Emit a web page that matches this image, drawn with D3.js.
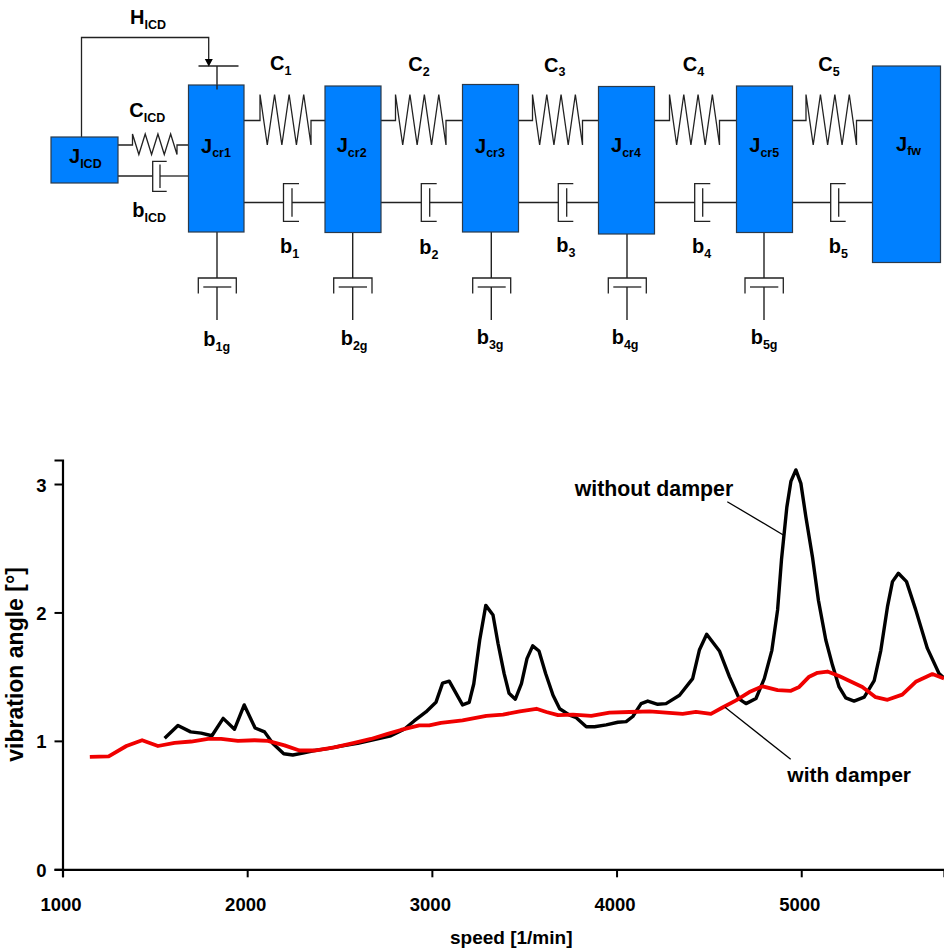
<!DOCTYPE html>
<html>
<head>
<meta charset="utf-8">
<script src="https://cdn.jsdelivr.net/npm/d3@7"></script>
<style>
  html, body { margin: 0; padding: 0; background: #fff; }
  svg { display: block; }
  text { font-family: "Liberation Sans", Arial, sans-serif; font-weight: bold; fill: #000; }
</style>
</head>
<body>
<div id="chart"></div>
<script>
// chart values
const xTicks = [1000, 2000, 3000, 4000, 5000];
const yTicks = [0, 1, 2, 3];

const withoutSpeed = [1553, 1625, 1694, 1751, 1809, 1870, 1931, 1984, 2043, 2094, 2139, 2198, 2247, 2301, 2364, 2436, 2508, 2598, 2688, 2778, 2850, 2904, 2968, 3022, 3058, 3094, 3166, 3202, 3227, 3259, 3292, 3331, 3358, 3391, 3418, 3452, 3485, 3515, 3546, 3580, 3616, 3656, 3692, 3746, 3782, 3836, 3881, 3944, 4007, 4052, 4088, 4133, 4169, 4223, 4268, 4341, 4412, 4449, 4488, 4557, 4611, 4665, 4701, 4755, 4800, 4841, 4872, 4893, 4922, 4944, 4971, 4998, 5025, 5061, 5093, 5133, 5169, 5205, 5241, 5286, 5341, 5395, 5431, 5467, 5494, 5526, 5570, 5620, 5683, 5746, 5773];
const withoutAngle = [1.02, 1.12, 1.07, 1.06, 1.04, 1.175, 1.09, 1.28, 1.10, 1.07, 0.98, 0.90, 0.89, 0.905, 0.925, 0.94, 0.96, 0.98, 1.01, 1.04, 1.09, 1.155, 1.225, 1.30, 1.45, 1.465, 1.28, 1.30, 1.445, 1.785, 2.055, 1.98, 1.76, 1.525, 1.37, 1.325, 1.445, 1.64, 1.74, 1.70, 1.525, 1.355, 1.25, 1.20, 1.18, 1.11, 1.11, 1.125, 1.145, 1.15, 1.19, 1.29, 1.31, 1.285, 1.29, 1.355, 1.485, 1.71, 1.83, 1.70, 1.50, 1.325, 1.29, 1.33, 1.485, 1.705, 2.02, 2.41, 2.82, 3.02, 3.11, 3.005, 2.745, 2.43, 2.095, 1.785, 1.59, 1.42, 1.335, 1.31, 1.34, 1.47, 1.705, 2.045, 2.24, 2.305, 2.24, 2.02, 1.72, 1.525, 1.49];

const withSpeed = [1148, 1250, 1346, 1431, 1517, 1607, 1697, 1788, 1859, 1950, 2040, 2112, 2202, 2283, 2364, 2472, 2580, 2670, 2761, 2832, 2932, 2986, 3049, 3166, 3295, 3385, 3476, 3566, 3620, 3683, 3764, 3863, 3962, 4070, 4178, 4268, 4358, 4430, 4511, 4574, 4647, 4719, 4791, 4872, 4944, 4989, 5043, 5088, 5142, 5205, 5331, 5403, 5467, 5547, 5620, 5710, 5773];
const withAngle = [0.875, 0.88, 0.96, 1.005, 0.96, 0.985, 0.995, 1.015, 1.015, 1.00, 1.005, 1.0, 0.965, 0.925, 0.925, 0.95, 0.985, 1.015, 1.055, 1.085, 1.12, 1.12, 1.14, 1.16, 1.195, 1.205, 1.23, 1.25, 1.225, 1.20, 1.205, 1.195, 1.22, 1.225, 1.23, 1.22, 1.21, 1.225, 1.21, 1.26, 1.315, 1.38, 1.425, 1.395, 1.39, 1.42, 1.50, 1.53, 1.54, 1.505, 1.42, 1.34, 1.32, 1.36, 1.46, 1.52, 1.485];

const width = 944, height = 949;
const blue = "#0080ff", wire = "#222";

const svg = d3.select("#chart").append("svg")
    .attr("width", width)
    .attr("height", height);

// ---- schematic ----
const diagram = svg.append("g");

const boxes = [
    [51, 137, 118, 183], [188.5, 85, 244, 232], [325, 86, 381, 232.5],
    [462.5, 84.5, 518.5, 232], [598.5, 86.5, 654.5, 234], [736.5, 86, 792.5, 232.5],
    [872.5, 66, 940.5, 262.5]
];

function wireLine(points, w) {
    diagram.append("path")
        .attr("d", d3.line()(points))
        .attr("fill", "none")
        .attr("stroke", wire)
        .attr("stroke-width", w || 1.3);
}

// seven slanted strokes starting at the top, then back to the centre line
function spring(x0, x1, xs, xe, yc, top, bottom) {
    const step = (xe - xs) / 7;
    const pts = [[x0, yc], [xs, yc], [xs, top]];
    for (let i = 1; i <= 7; i++) {
        pts.push([xs + i * step, i % 2 ? bottom : top]);
    }
    pts.push([xe, yc], [x1, yc]);
    wireLine(pts);
}

function damper(x0, x1, bx, ax, px, yc, top, bottom, inset) {
    wireLine([[x0, yc], [bx, yc]]);
    wireLine([[ax, top], [bx, top], [bx, bottom], [ax, bottom]]);
    wireLine([[px, top + inset], [px, bottom - inset]]);
    wireLine([[px, yc], [x1, yc]]);
}

function groundDamper(x, y0, left, right) {
    wireLine([[x, y0], [x, 278]], 1.4);
    wireLine([[left, 293.5], [left, 278], [right, 278], [right, 293.5]]);
    wireLine([[left + 5, 287], [right - 5, 287]]);
    wireLine([[x, 287], [x, 320]], 1.4);
}

// wires go first so the boxes sit on top of their ends
wireLine([[81.5, 137], [81.5, 37.5], [208.7, 37.5], [208.7, 60]]);
wireLine([[198.5, 66], [238.5, 66]]);
wireLine([[217, 66], [217, 89.5]], 1.4);
diagram.append("path")
    .attr("d", "M204.8,59L212.8,59L208.8,66.5Z")
    .attr("fill", "#000");

spring(118, 188.5, 132.5, 177, 145, 134, 154.5);
spring(244, 325, 260, 311, 120.5, 94.5, 145);
spring(381, 462.5, 395.5, 446, 120.5, 94.5, 145);
spring(518.5, 598.5, 532.5, 582.5, 120.5, 94.5, 145);
spring(654.5, 736.5, 669.5, 719.5, 120.5, 94.5, 145);
spring(792.5, 872.5, 806, 856.5, 120.5, 94.5, 145);

damper(118, 188.5, 152.7, 166.7, 160, 176, 161.3, 191.3, 3.2);
damper(244, 325, 283.5, 299, 292, 202.5, 183.7, 221.3, 4.6);
damper(381, 462.5, 421.3, 436.7, 429.7, 202.5, 183.7, 221.3, 4.6);
damper(518.5, 598.5, 558.3, 573.3, 566.7, 202.5, 183.7, 221.3, 4.6);
damper(654.5, 736.5, 694.7, 710.3, 702.7, 202.5, 183.7, 221.3, 4.6);
damper(792.5, 872.5, 830.7, 845.7, 838.7, 202.5, 183.7, 221.3, 4.6);

groundDamper(217, 232, 198.3, 236.3);
groundDamper(352.7, 232.5, 333.7, 372);
groundDamper(491.3, 232, 472.7, 510.7);
groundDamper(627, 234, 608.3, 646.3);
groundDamper(764, 232.5, 745, 783.3);

diagram.selectAll("rect")
    .data(boxes)
    .enter()
    .append("rect")
    .attr("x", d => d[0])
    .attr("y", d => d[1])
    .attr("width", d => d[2] - d[0])
    .attr("height", d => d[3] - d[1])
    .attr("fill", blue)
    .attr("stroke", "#2b3a4a")
    .attr("stroke-width", 1.2);

// stem of the H_ICD actuator runs over the top of the first crank box
wireLine([[217, 85], [217, 89.5]], 1.4);

const labels = [
    ["H", "ICD", 130, 24], ["C", "ICD", 129.3, 117.3], ["b", "ICD", 132.3, 217.3], ["J", "ICD", 69, 163.3],
    ["J", "cr1", 201, 152.7], ["J", "cr2", 336.7, 152], ["J", "cr3", 475, 152.7], ["J", "cr4", 611, 152],
    ["J", "cr5", 749.3, 152], ["J", "fw", 896, 150.7],
    ["C", "1", 270, 70], ["C", "2", 408.3, 71], ["C", "3", 544, 71.7], ["C", "4", 682.7, 71], ["C", "5", 818.3, 71],
    ["b", "1", 280, 253.3], ["b", "2", 419.3, 254], ["b", "3", 556.3, 252], ["b", "4", 692, 253], ["b", "5", 828.7, 253],
    ["b", "1g", 203.3, 346], ["b", "2g", 340.7, 345.3], ["b", "3g", 476.7, 344.3], ["b", "4g", 611.7, 344], ["b", "5g", 750.7, 344]
];

const labelText = diagram.selectAll("text.label")
    .data(labels)
    .enter()
    .append("text")
    .attr("class", "label")
    .attr("x", d => d[2])
    .attr("y", d => d[3])
    .attr("font-size", 20);
labelText.append("tspan").text(d => d[0]);
labelText.append("tspan")
    .attr("dy", 4.5)
    .attr("font-size", 12.5)
    .text(d => d[1]);

// ---- chart ----
const x = d3.scaleLinear().domain([1000, 5773]).range([62.5, 944]);
const y = d3.scaleLinear().domain([0, 3.187]).range([869.3, 460]);

const xAxis = svg.append("g")
    .attr("transform", `translate(0,${y(0)})`)
    .call(d3.axisBottom(x).tickValues(xTicks).tickSize(8).tickPadding(0).tickFormat(d3.format("d")));
const yAxis = svg.append("g")
    .attr("transform", `translate(${x(1000)},0)`)
    .call(d3.axisLeft(y).tickValues(yTicks).tickSize(8).tickPadding(8).tickFormat(d3.format("d")));

[xAxis, yAxis].forEach(a => {
    a.selectAll(".domain").attr("stroke", "#000").attr("stroke-width", 2.2);
    a.selectAll(".tick line").attr("stroke", "#000").attr("stroke-width", 2);
    a.selectAll("text").attr("font-size", 18.5).attr("font-family", null);
});
xAxis.selectAll("text").attr("dx", -2).attr("y", 28).attr("dy", 13.5);
yAxis.selectAll("text").attr("dy", 7);

const line = d3.line()
    .x(d => x(d[0]))
    .y(d => y(d[1]));

svg.append("path")
    .attr("d", line(withoutSpeed.map((s, i) => [s, withoutAngle[i]])))
    .attr("fill", "none")
    .attr("stroke", "#000")
    .attr("stroke-width", 3.4)
    .attr("stroke-linejoin", "round");

svg.append("path")
    .attr("d", line(withSpeed.map((s, i) => [s, withAngle[i]])))
    .attr("fill", "none")
    .attr("stroke", "#f00000")
    .attr("stroke-width", 3.8)
    .attr("stroke-linejoin", "round");

// leader lines
svg.append("line").attr("x1", 727.3).attr("y1", 501.7).attr("x2", 783.3).attr("y2", 535)
    .attr("stroke", "#000").attr("stroke-width", 1.3);
svg.append("line").attr("x1", 725).attr("y1", 707.3).attr("x2", 790.7).attr("y2", 759.3)
    .attr("stroke", "#000").attr("stroke-width", 1.3);

svg.append("text").attr("x", 574.7).attr("y", 495.7).attr("font-size", 21.3).text("without damper");
svg.append("text").attr("x", 787.3).attr("y", 782.3).attr("font-size", 21).text("with damper");
svg.append("text").attr("x", 450).attr("y", 944).attr("font-size", 19).text("speed [1/min]");
svg.append("text")
    .attr("transform", "translate(23,761.7) rotate(-90)")
    .attr("font-size", 23)
    .text("vibration angle [°]");
</script>
</body>
</html>
